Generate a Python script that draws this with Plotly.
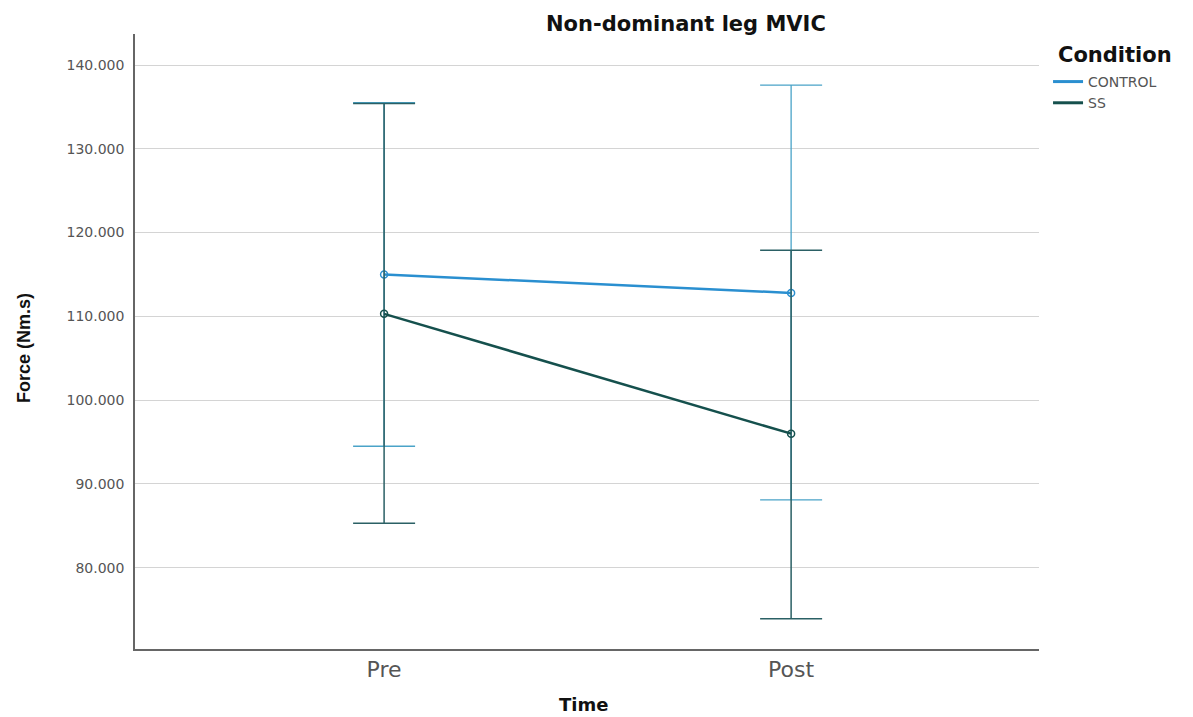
import plotly.graph_objects as go

times = ["Pre", "Post"]
control_mean = [115.0, 112.8]
control_upper = [135.5, 137.6]
control_lower = [94.5, 88.1]
ss_mean = [110.3, 96.0]
ss_upper = [135.4, 117.9]
ss_lower = [85.3, 73.9]
y_ticks = [80, 90, 100, 110, 120, 130, 140]
y_tick_labels = ["80.000", "90.000", "100.000", "110.000", "120.000", "130.000", "140.000"]

CONTROL_C = "#2a8fd0"
CONTROL_ERR = "#4aa3c8"
SS_C = "#15504d"
SS_ERR = "#2b6065"

def err(upper, lower, mean):
    return ([u - m for u, m in zip(upper, mean)], [m - l for l, m in zip(lower, mean)])

cp, cm = err(control_upper, control_lower, control_mean)
sp, sm = err(ss_upper, ss_lower, ss_mean)

fig = go.Figure()
fig.add_trace(go.Scatter(
    x=times, y=control_mean, name="CONTROL", mode="lines+markers", showlegend=False,
    line=dict(color=CONTROL_C, width=2.5),
    marker=dict(symbol="circle-open", size=7, color=CONTROL_C, line=dict(width=1.5)),
    error_y=dict(type="data", symmetric=False, array=cp, arrayminus=cm,
                 color=CONTROL_ERR, thickness=1.3, width=31),
))
fig.add_trace(go.Scatter(
    x=times, y=ss_mean, name="SS", mode="lines+markers", showlegend=False,
    line=dict(color=SS_C, width=2.5),
    marker=dict(symbol="circle-open", size=7, color=SS_C, line=dict(width=1.5)),
    error_y=dict(type="data", symmetric=False, array=sp, arrayminus=sm,
                 color=SS_ERR, thickness=1.5, width=31),
))
# legend-only entries (lines without markers)
fig.add_trace(go.Scatter(x=[None], y=[None], name="CONTROL", mode="lines",
                         line=dict(color=CONTROL_C, width=3)))
fig.add_trace(go.Scatter(x=[None], y=[None], name="SS", mode="lines",
                         line=dict(color=SS_C, width=3)))

W, H = 1185, 709
fig.update_layout(
    width=W, height=H,
    paper_bgcolor="white", plot_bgcolor="white",
    margin=dict(l=127, r=154, t=26, b=68, autoexpand=False),
    font=dict(family="DejaVu Sans, Liberation Sans, Arial, sans-serif", color="#222"),
    showlegend=True,
    legend=dict(x=1.01, xanchor="left", y=0.948, yanchor="top",
                font=dict(size=14, color="#555"), tracegroupgap=0,
                bgcolor="rgba(0,0,0,0)"),
    xaxis=dict(type="category", range=[-0.612, 1.609], showgrid=False,
               showline=True, linecolor="#666", linewidth=1.5,
               ticks="", tickfont=dict(size=22, color="#555")),
    yaxis=dict(range=[70.3, 143.7], tickvals=y_ticks, ticktext=y_tick_labels,
               showgrid=True, gridcolor="#d4d4d4", gridwidth=1,
               showline=True, linecolor="#666", linewidth=1.5,
               ticks="", ticklabelstandoff=6,
               tickfont=dict(size=14, color="#555"), zeroline=False),
)
# title
fig.add_annotation(text="<b>Non-dominant leg MVIC</b>", xref="paper", yref="paper",
                   x=(686 - 135) / 904, y=(649 - 24) / 615, showarrow=False,
                   xanchor="center", yanchor="middle",
                   font=dict(size=21, color="#111"))
# legend title
fig.add_annotation(text="<b>Condition</b>", xref="paper", yref="paper",
                   x=1 + (1056 - 1039) / 904, y=(649 - 55) / 615, showarrow=False,
                   xanchor="left", yanchor="middle",
                   font=dict(size=21, color="#111"))
# x axis title
fig.add_annotation(text="<b>Time</b>", xref="paper", yref="paper",
                   x=(583 - 135) / 904, y=(649 - 704) / 615, showarrow=False,
                   xanchor="center", yanchor="middle",
                   font=dict(size=18, color="#111"))
# y axis title
fig.add_annotation(text="<b>Force (Nm.s)</b>", xref="paper", yref="paper",
                   x=(24 - 135) / 904, y=(649 - 348) / 615, textangle=-90,
                   showarrow=False, xanchor="center", yanchor="middle",
                   font=dict(family="Liberation Sans Narrow, Liberation Sans, Arial", size=18, color="#111"))
fig.write_html("out.html")
